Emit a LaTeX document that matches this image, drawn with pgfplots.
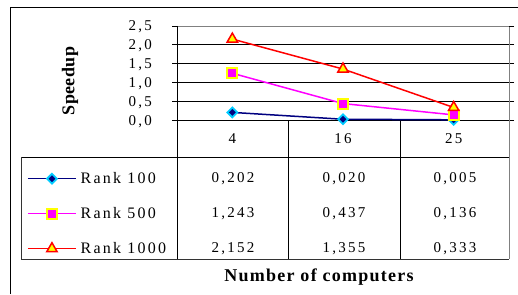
\documentclass[border=0pt]{standalone}
\usepackage{pgfplots}
\pgfplotsset{compat=1.18}
\usepackage{fontspec}
\setmainfont{Liberation Serif}
\newfontfamily\spaced{Liberation Serif}[LetterSpace=15]
\newfontfamily\legspaced{Liberation Serif}[LetterSpace=14]
\newfontfamily\titlefont{Liberation Serif}[LetterSpace=7]
\newfontfamily\titlefontb{Liberation Serif}[LetterSpace=2]
\newcommand{\tfont}{\spaced\fontsize{15bp}{16bp}\selectfont}
\newcommand{\lfont}{\legspaced\fontsize{16bp}{17bp}\selectfont}
\definecolor{navyc}{RGB}{0,0,128}
\definecolor{cyanc}{RGB}{0,204,255}
\definecolor{magc}{RGB}{255,0,255}
\definecolor{yelc}{RGB}{255,255,0}
\definecolor{redc}{RGB}{255,0,0}
\definecolor{frameg}{RGB}{128,128,128}
\begin{document}
\begin{tikzpicture}[x=1bp,y=1bp]
\path[use as bounding box] (0,0) rectangle (518,294);
% outer frame
\draw[line width=1.3bp] (10.5,0) -- (10.5,286.5) -- (518,286.5);
% table lines
\draw[line width=0.9bp, black] (21,137) -- (509,137);
\draw[line width=0.9bp, black!80] (21,35) -- (509,35);
\draw[line width=0.9bp, black!80] (21,35) -- (21,137);
\draw[line width=0.9bp, black] (177,174) -- (177,35);
\draw[line width=0.9bp, black] (288,174) -- (288,35);
\draw[line width=0.9bp, black] (400,174) -- (400,35);
\draw[line width=0.9bp, frameg] (509,174) -- (509,35);
\begin{axis}[
  at={(177bp,174bp)}, anchor=south west,
  scale only axis, width=332bp, height=94bp,
  xmin=-0.5, xmax=2.5, ymin=0, ymax=2.5,
  clip=false,
  axis line style={draw=frameg, line width=0.9bp},
  xtick={0,1,2}, xticklabels={4,16,25},
  xtick style={draw=none},
  ytick={0,0.5,1,1.5,2}, extra y ticks={2.5}, extra y tick style={grid=none},
  tick align=outside, major tick length=5bp,
  ytick style={black, line width=0.8bp},
  ymajorgrids, major grid style={black, line width=0.8bp},
  /pgf/number format/assume math mode=true,
  yticklabel={\pgfmathprintnumber[use comma, fixed, fixed zerofill, precision=1]{\tick}},
  yticklabel style={font=\tfont, anchor=base east, inner sep=0pt, xshift=-20bp, yshift=-5bp},
  xticklabel style={font=\tfont, anchor=base, inner sep=0pt, yshift=-18bp},
  legend style={at={(-0.4518,-1.013)}, anchor=west, draw=none, fill=none, inner sep=0pt,
    nodes={inner sep=0pt, text height=11bp, text depth=4bp, anchor=base west, font=\lfont},
    row sep=20bp, font=\lfont,
    /tikz/every odd column/.append style={column sep=4bp}},
  legend cell align=left,
  legend image code/.code={\draw[mark repeat=2,mark phase=2,yshift=5bp] plot coordinates {(0bp,0bp) (24bp,0bp) (48bp,0bp)};},
]
\draw[black, line width=0.9bp] (rel axis cs:0,1) -- (rel axis cs:0,0) -- (rel axis cs:1,0);
\addplot[color=navyc, line width=1.5bp, mark=square*, mark size=3.5bp,
  mark options={rotate=45, fill=navyc, draw=cyanc, line width=1.8bp, solid}]
  coordinates {(0,0.202) (1,0.020) (2,0.005)};
\addlegendentry{\lfont Rank 100}
\addplot[color=magc, line width=1.5bp, mark=square*, mark size=5bp,
  mark options={fill=magc, draw=yelc, line width=2bp, solid}]
  coordinates {(0,1.243) (1,0.437) (2,0.136)};
\addlegendentry{\lfont Rank 500}
\addplot[color=redc, line width=1.5bp, mark=triangle*, mark size=6bp,
  mark options={fill=yelc, draw=redc, line width=1.5bp, solid}]
  coordinates {(0,2.152) (1,1.355) (2,0.333)};
\addlegendentry{\lfont Rank 1000}
\end{axis}
% table values
\begin{scope}[every node/.style={font=\tfont, anchor=base, inner sep=0pt}]
\node at (233,112) {0,202}; \node at (344,112) {0,020}; \node at (455,112) {0,005};
\node at (233,77) {1,243}; \node at (344,77) {0,437}; \node at (455,77) {0,136};
\node at (233,42) {2,152}; \node at (344,42) {1,355}; \node at (455,42) {0,333};
\end{scope}
\node[font=\titlefont\fontsize{18bp}{20bp}\selectfont\bfseries, anchor=base] at (319,13) {Number of computers};
\node[font=\titlefontb\fontsize{18bp}{20bp}\selectfont\bfseries, rotate=90] at (70,213) {Speedup};
\end{tikzpicture}
\end{document}
